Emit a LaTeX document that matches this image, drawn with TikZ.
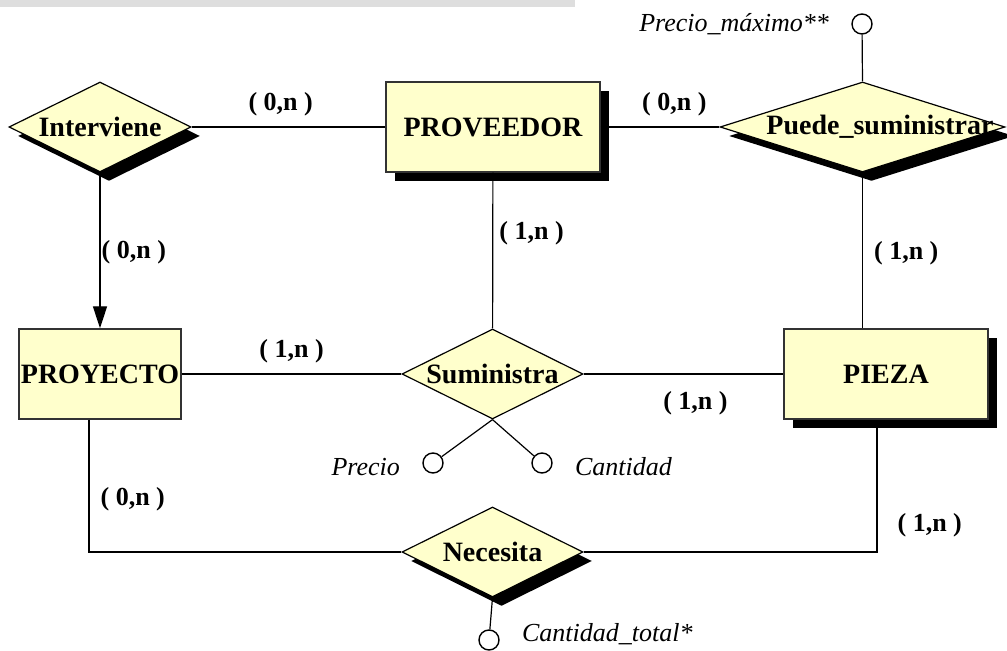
\documentclass[tikz,border=0pt]{standalone}
\usepackage{fontspec}
\setmainfont{Liberation Serif}
\usetikzlibrary{shapes.geometric, arrows.meta, positioning, shadows}
\definecolor{paleyellow}{HTML}{FFFFCC}
\definecolor{bargray}{HTML}{DEDEDE}
\newcommand{\dtext}[1]{\makebox[0pt]{#1}}

\begin{document}
\begin{tikzpicture}[
  x=0.5pt, y=-0.5pt,
  withshadow/.style={drop shadow={shadow xshift=4.5pt, shadow yshift=-4.5pt, fill=black, opacity=1}},
  entity/.style={rectangle, draw=black!80, line width=0.7pt, fill=paleyellow, minimum height=45pt, inner sep=0pt, font=\fontsize{14}{16}\selectfont\bfseries},
  relation/.style={diamond, draw=black, line width=0.6pt, fill=paleyellow, minimum height=45pt, inner sep=0pt, font=\fontsize{14}{16}\selectfont\bfseries},
  attr/.style={circle, draw=black, line width=0.7pt, fill=white, minimum size=10pt, inner sep=0pt},
  attrtext/.style={inner sep=0pt, font=\fontsize{13}{15}\selectfont\itshape},
  card/.style={inner sep=0pt, font=\fontsize{13}{15}\selectfont\bfseries},
  link/.style={line width=0.6pt},
  arrow/.style={-{Triangle[length=11pt, width=7pt]}, line width=0.7pt}
]
  \useasboundingbox (0,0) rectangle (1007,651);
  \fill[bargray] (0,0) rectangle (575,7);

  % entities and relationships
  \node[relation, withshadow, minimum width=91pt] (interviene) at (100,127) {\dtext{Interviene}};
  \node[entity, withshadow, minimum width=107pt] (proveedor) at (493,127) {PROVEEDOR};
  \node[relation, withshadow, minimum width=142.5pt] (puede) at (862.5,127) {\dtext{\kern17.5pt Puede\_suministrar}};
  \node[entity, minimum width=81pt] (proyecto) at (100,374) {PROYECTO};
  \node[relation, minimum width=90.5pt] (suministra) at (492.5,374) {\dtext{Suministra}};
  \node[entity, withshadow, minimum width=102pt] (pieza) at (886,374) {PIEZA};
  \node[relation, withshadow, minimum width=90.5pt] (necesita) at (492.5,552) {\dtext{Necesita}};

  % attributes
  \node[attr] (pmax) at (862,24) {};
  \node[attrtext, left=11pt of pmax] (pmaxtext) {Precio\_máximo**};
  \node[attr] (precio) at (433,463) {};
  \node[attrtext, left=11pt of precio, yshift=-2pt] (preciotext) {Precio};
  \node[attr] (cantidad) at (542,463) {};
  \node[attrtext, right=11pt of cantidad, yshift=-2pt] (cantidadtext) {Cantidad};
  \node[attr] (ctotal) at (489,640) {};
  \node[attrtext, right=11pt of ctotal, yshift=3pt] (ctotaltext) {Cantidad\_total*};

  % connectors
  \draw[link] (interviene) -- node[card, above=5pt, pos=0.46] (c1) {( 0,n )} (proveedor);
  \draw[link] (proveedor) -- node[card, above=5pt, pos=0.62] (c2) {( 0,n )} (puede);
  \draw[link] (proveedor) -- node[card, right=3pt, pos=0.39] (c3) {( 1,n )} (suministra);
  \draw[arrow] (interviene) -- node[card, right=0.5pt, pos=0.51] (c4) {( 0,n )} (proyecto);
  \draw[link] (proyecto) -- node[card, above=5pt, pos=0.5] (c5) {( 1,n )} (suministra);
  \draw[link] (suministra) -- node[card, below=8.5pt, pos=0.56] (c6) {( 1,n )} (pieza);
  \draw[link] (puede.south) -- node[card, right=5.5pt, pos=0.52] (c7) {( 1,n )} (puede.south |- pieza.north);
  \draw[link] ([xshift=-5.5pt]proyecto.south) |- node[card, right=5.5pt, pos=0.3] (c8) {( 0,n )} (necesita.west);
  \draw[link] (necesita.east) -| node[card, right=10pt, pos=0.6] (c9) {( 1,n )} ([xshift=-4.5pt]pieza.south);
  \draw[link] (pmax) -- (puede.north);
  \draw[link] (suministra.south) -- (precio);
  \draw[link] (suministra.south) -- (cantidad);
  \draw[link] (necesita.south) -- (ctotal);
\end{tikzpicture}
\end{document}
